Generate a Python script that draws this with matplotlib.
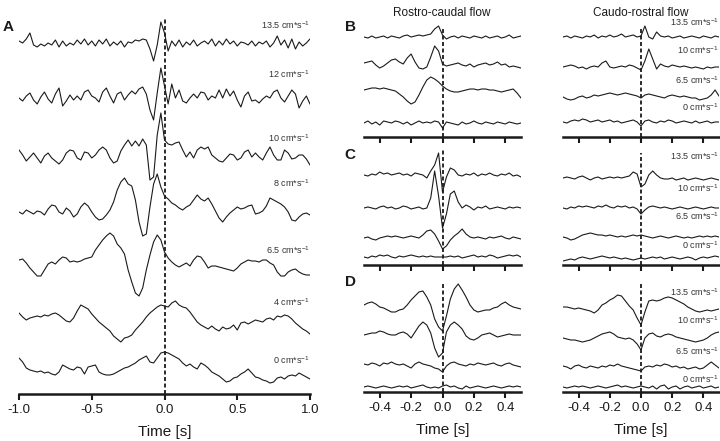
import numpy as np
import matplotlib
matplotlib.use("Agg")
import matplotlib.pyplot as plt

plt.rcParams['font.family'] = ['Liberation Sans', 'DejaVu Sans']
plt.rcParams['axes.unicode_minus'] = False

# ---- data: traces, amplitude in (approx.) pixel units ----
speeds_a = ["13.5", "12", "10", "8", "6.5", "4", "0"]
speeds_bcd = ["13.5", "10", "6.5", "0"]

# Panel A, t = -1 .. 1 s (step 0.025 s)
a_135 = [2, 0, 4, 10, -2, -4, -1, -3, 0, -2, 3, -4, 2, -3, 0, -2, 3, -1, 4, -2, 2, -3, 3, -1, 4,
         -3, 1, -2, 2, -4, 1, 0, 3, 2, 4, 3, -6, -18, -2, 21, 10, -8, 2, -3, 3, -4, 1, -2, 3, -3,
         0, 2, -1, 4, -3, 2, -2, 4, -1, 2, -3, 1, 0, -2, 2, -3, 1, -1, 2, -4, 0, 7, -2, 3, -5,
         4, -6, 1, -3, 0, 4]
a_12 = [0, -3, 2, 5, -2, -6, 1, 6, -1, -5, 4, 10, -8, -3, 3, -2, 2, -2, 6, 8, 2, 0, -4, 6, 10,
        2, -5, 4, 6, -2, 3, 7, 4, 9, 11, 4, -12, -22, 5, 30, 12, -6, 14, 0, 8, -3, -5, 0, 4, 0,
        6, 5, -2, 2, 0, 8, 0, 9, 2, 7, -2, -9, 2, 6, -3, -2, -5, -1, 2, 0, 6, 8, 0, -4, 2,
        8, 4, -10, -3, 2, -6]
a_10 = [5, 0, -6, -2, 2, -3, -8, -1, 2, -3, -6, -9, -5, 2, 5, 4, -3, -5, 3, 2, -3, 0, 5, 8, 5,
        -3, -8, -6, 4, 10, 15, 9, 14, 9, 16, 10, -25, -22, 20, 42, 15, 11, 10, 12, 13, 5, -2, 3,
        -3, 5, 8, 6, 8, 0, -3, -6, -7, -3, 1, 0, -5, -3, 3, 5, -2, 2, -2, -5, 2, 8, 0, -5, -5,
        5, 2, -4, -3, 0, 0, -4, -10]
a_8 = [0, -2, 2, 0, -2, 1, 0, -3, 3, 7, 6, 0, -2, 4, 1, -5, -2, 5, 9, 6, 0, -5, -8, -7, -3,
       2, 10, 22, 30, 34, 28, 26, 12, -10, -24, -22, 5, 28, 38, 25, 16, 13, 9, 7, 4, 2, 5, 7,
       12, 17, 13, 11, 14, 8, 1, -6, -10, -5, -1, 2, 5, 3, 4, 6, 7, -2, -1, 1, 6, 14, 12, 10,
       8, 5, 0, -8, -9, -5, -2, -1, -3]
a_65 = [0, 1, -3, -8, -12, -16, -16, -10, -4, -2, -4, 0, 3, 2, -2, -1, -2, -1, 1, 2, 3, 10, 15,
        20, 24, 27, 24, 16, 12, 6, -10, -22, -33, -36, -28, -10, 5, 18, 25, 20, 8, 2, -2, -5,
        -7, -5, -3, -6, 0, 4, 3, -2, -8, -6, -6, -7, -8, -9, -10, -11, -8, -4, -2, 0, -1, -1,
        -2, 0, 0, -3, -5, -12, -16, -16, -12, -10, -9, -12, -14, -15, -15]
a_4 = [4, 0, -3, -1, 0, 1, 0, 2, 1, 3, 4, 2, -1, -4, -5, -1, 6, 12, 10, 8, 3, -1, -5, -8, -11,
       -14, -19, -22, -25, -21, -20, -18, -13, -9, -5, 0, 4, 7, 10, 12, 11, 10, 14, 16, 12, 10,
       9, 5, 0, -5, -8, -10, -12, -9, -12, -14, -10, -12, -11, -8, -13, -6, -5, -7, -5, -3, -4,
       -5, -2, -1, -3, 1, 0, 2, 1, -2, -6, -9, -12, -14, -17]
a_0 = [14, 10, 4, 2, 1, 0, 1, -1, 0, -2, -3, 0, 7, 5, 3, 2, 5, 4, -2, 5, 6, 7, 0, -2, -3, -3,
       -2, 0, 2, 4, 5, 7, 9, 12, 14, 16, 10, 9, 14, 19, 20, 19, 17, 15, 13, 9, 6, 8, 5, 3, 9, 7,
       4, 0, -2, -4, -7, -10, -9, -6, -5, -2, 0, 3, -1, -5, -6, -8, -9, -11, -10, -6, -5, -7,
       -4, -3, -4, -1, -3, -5, -7]

# Panels B-D, t = -0.5 .. 0.5 s (step 0.025 s)
b_left = [
    [0, -1, 1, -1, 0, 1, -1, 1, 0, -1, 1, 2, 0, 1, 2, 1, 2, 3, 8, 11, 2, -2, 0, 1, -1, 1, 0, -1,
     1, 0, -1, 1, -1, 0, 1, -1, 0, 2, -1, 0, 1],
    [2, 3, 4, 0, -3, -1, 2, 5, 6, 3, 1, 7, 11, 3, -3, -4, -2, 8, 19, 14, 1, -1, 0, 1, 2, 0, -1,
     1, -2, 0, 1, 2, 0, 1, 3, 0, 1, -2, -1, -2, -3],
    [0, 1, 2, 2, 1, 2, 1, 0, -1, -4, -7, -11, -14, -12, -5, 3, 10, 13, 11, 8, 4, 1, -1, -2, -2,
     -1, 0, 1, 1, 0, 1, 1, 0, 0, -1, -2, -1, 0, 1, -3, -8],
    [0, 2, -1, 1, -2, 2, 1, 0, 2, 1, -1, 1, -2, 0, 2, 0, 1, 0, 2, 1, -5, 1, 0, -1, -2, 1, -1, 0,
     2, 0, -1, 1, 0, -1, 1, 0, -1, 1, 0, -1, 0],
]
b_right = [
    [0, 1, -1, 1, 0, -1, 1, 0, 2, -1, 1, 0, 2, 0, 1, 3, 0, 1, 2, 0, 1, 11, 0, -2, 5, 1, 0, 1, -1,
     0, 1, -1, 0, 1, 0, -1, 1, 0, -1, 1, 0],
    [0, 1, 2, 1, -1, 0, -2, 0, 1, 0, 4, 6, 0, -1, 0, 1, 0, 2, 1, -1, -3, 6, 18, 8, -2, 3, 1, 0,
     2, 1, 0, 1, 0, -1, 0, -1, -2, 0, -1, 0, 0],
    [0, -2, -3, -2, 0, 1, -1, 0, 2, 1, 2, 3, 4, 3, 2, 3, 4, 3, 2, 1, -1, 2, 3, 2, 1, 0, -1, 1, 2,
     1, 0, 1, 0, -1, -1, -3, -2, -1, 2, 7, 1],
    [0, -1, 1, 2, 1, 3, 2, 0, 1, 2, 0, 1, 2, 0, 1, -1, 0, 1, 2, 0, -4, 1, 2, 0, -1, 1, 0, 2, 1,
     -1, 0, 1, 0, -1, 1, -1, 0, 1, -1, 0, 0],
]
c_left = [
    [0, -1, 1, 0, 3, 1, 2, 0, 1, 2, 0, 1, -1, 2, 1, 0, -3, 4, 10, 22, -17, -2, 7, 5, 0, -1, 1, 0,
     2, -1, 1, 0, 2, 0, -1, 1, 0, 2, -1, 0, -2],
    [0, 1, 0, -1, 1, 2, 0, 1, -1, 0, 2, 1, -1, 0, 1, -1, 0, 10, 37, 12, -20, -6, 14, 17, 6, 0, 3,
     1, -2, 1, 0, 2, -1, 0, 1, 0, -1, 1, 0, 1, 0],
    [0, 1, -1, -2, 0, 1, 2, 1, 2, 1, 0, 1, 2, 1, 0, 3, 7, 8, 4, -3, -11, -8, -2, 2, 5, 9, 4, 1, 0,
     1, 0, -1, 1, 0, 1, 2, 0, -1, 1, 0, -1],
    [0, -1, 1, 0, 2, 1, 2, 0, -1, 1, 0, 1, 2, 1, 0, 1, 0, 1, 0, 0, 0, 0, 1, 0, 1, -1, 0, 1, 2, 0,
     1, 0, 2, 1, -1, 0, 1, 2, 1, 2, 0],
]
c_right = [
    [0, 1, 0, -1, 1, 2, 0, -2, 0, 1, -1, 0, 1, 0, 1, 0, 1, 2, 6, 4, -9, -6, 3, 7, 3, 0, -1, -1, 0,
     -2, -1, 0, -2, -1, 0, -1, -2, -1, 0, -1, -2],
    [0, -1, 1, 0, 2, 1, 2, 1, 0, 2, 1, 3, 1, 0, 2, 1, 2, 0, 1, -1, -6, -2, 1, 2, 1, 0, 1, 0, -1,
     0, 1, 0, -1, 0, 1, 0, -1, 0, 1, 0, 0],
    [0, -1, -3, -2, 0, 2, 3, 4, 3, 2, 2, 1, 2, 1, 0, 1, 0, 1, 2, 1, 2, 1, 0, -1, 0, 1, 0, -1, 0,
     1, 0, -1, 0, -1, 0, 1, 0, 1, 0, 1, 0],
    [-2, -1, 0, -1, 1, 2, 1, 0, 1, 2, 3, 2, 1, 2, 1, 0, 1, 0, -1, 0, 1, 0, 1, 2, 1, 2, 0, 1, 2, 1,
     0, 1, 2, 1, -1, 1, 2, 1, 2, 3, 2],
]
d_left = [
    [2, 4, 5, 3, 0, -1, -3, -5, -5, -3, -2, 2, 7, 11, 15, 16, 10, 2, -12, -20, -24, -9, 8, 18, 23,
     17, 10, 2, -3, -5, -4, -3, -3, -1, 0, 3, 5, 2, 0, -1, -2],
    [0, 1, 2, 2, 4, 3, 1, 0, 0, 2, 3, 1, -3, 3, 9, 13, 10, 2, -13, -22, -18, 3, 10, 13, 10, 6, -1,
     -4, -5, -3, 0, 1, 2, 0, -2, -1, 0, 1, 0, 0, 0],
    [1, 0, 2, 1, -1, 2, 1, 3, 1, 0, 1, -1, -3, 1, 3, 1, 0, -1, -3, -4, -7, -1, 2, 3, 1, 0, -1, 1,
     0, 2, 1, 0, 1, 2, 0, -1, 1, 2, 0, -1, -2],
    [0, 1, 0, -1, 0, 1, 0, -1, 0, 1, 0, 1, -1, 0, 1, 2, 0, -1, 0, -1, 1, 2, 0, 1, -1, -2, 1, -1,
     0, 1, 0, -1, 0, 1, 0, -1, 0, 1, 0, 1, 0],
]
d_right = [
    [3, 3, 2, 1, 2, 1, 0, -1, -3, 0, 5, 7, 10, 12, 15, 14, 9, 4, 0, -8, -15, -2, 9, 10, 9, 10, 12,
     13, 12, 10, 8, 6, 3, 1, -1, -2, -1, 0, -1, 0, 1],
    [2, 1, 0, 0, -1, -2, -1, 0, 2, 4, 6, 7, 8, 6, 3, 2, 1, 2, 0, -4, -10, 2, 6, 7, 4, 3, 5, 6, 5,
     3, 2, 1, 0, -1, -2, -1, 0, 2, 5, 7, 8],
    [1, 0, -2, 1, 2, 0, -1, 1, 0, -1, 1, 0, 2, 1, 3, 1, 0, -1, -2, -3, -4, 0, 1, 0, 2, 1, 3, 2, 0,
     1, -1, 0, -2, -1, 0, -2, -1, 2, 5, 2, -1],
    [0, -1, 0, 1, 0, 1, 0, -1, 0, 1, 0, -1, 0, 1, 2, 0, 1, 0, -1, 0, 1, 0, -1, 1, -2, 1, 2, -2, 0,
     1, -2, 0, 1, -1, 0, 1, -1, 0, 1, -1, 0],
]

# ---- layout (pixel geometry of the original figure) ----
W, H = 720, 441
fig = plt.figure(figsize=(W / 100, H / 100), dpi=100)
INK = "#1a1a1a"


def px_axes(left, top, right, bottom):
    ax = fig.add_axes([left / W, 1 - bottom / H, (right - left) / W, (bottom - top) / H])
    ax.set_ylim(0, bottom - top)
    for s in ("top", "right", "left"):
        ax.spines[s].set_visible(False)
    ax.spines["bottom"].set_linewidth(1.8)
    ax.spines["bottom"].set_color(INK)
    ax.set_yticks([])
    ax.tick_params(axis="x", direction="out", length=4, width=1.5, color=INK,
                   labelsize=9.5, labelcolor=INK, pad=3)
    ax.patch.set_alpha(0)
    return ax


def draw_traces(ax, t, traces, offsets, dash_top):
    for vals, off in zip(traces, offsets):
        ax.plot(t, np.asarray(vals) + off, color=INK, lw=0.8)
    ax.plot([0, 0], [0, dash_top], color=INK, lw=1.3, ls=(0, (2.2, 1.4)))


def speed_labels(ax, ys, x=1.0):
    for sp, y in zip(speeds_bcd if len(ys) == 4 else speeds_a, ys):
        ax.text(x, y, sp + r" cm*s$^{\mathregular{-1}}$", transform=ax.get_yaxis_transform(),
                ha="right", va="center", fontsize=6.5, color="#333333")


# Panel A
axA = px_axes(19, 10, 310, 394)
tA = np.linspace(-1, 1, len(a_135))
draw_traces(axA, tA, [a_135, a_12, a_10, a_8, a_65, a_4, a_0],
            [351, 296, 239, 182, 134, 77, 22], 376)
axA.set_xlim(-1, 1)
axA.set_xticks([-1, -0.5, 0, 0.5, 1])
axA.set_xticklabels(["-1.0", "-0.5", "0.0", "0.5", "1.0"])
axA.set_xlabel("Time [s]", fontsize=11, color=INK, labelpad=6.5)
speed_labels(axA, [369, 320, 256, 211, 144, 92, 34])

# Panels B-D
rows = [
    ("B", 15, 137, b_left, b_right, [100, 72, 47, 14], [100, 70, 40, 15], 109, 109,
     [115, 87, 57, 30]),
    ("C", 143, 265, c_left, c_right, [90, 57, 27, 8], [87, 57, 28, 6], 115, 112,
     [109, 77, 49, 20]),
    ("D", 270, 392, d_left, d_right, [85, 57, 27, 5], [82, 52, 25, 5], 110, 110,
     [100, 72, 41, 13]),
]
tB = np.linspace(-0.5, 0.5, len(b_left[0]))
for letter, top, bottom, left_tr, right_tr, off_l, off_r, dash_l, dash_r, lab_y in rows:
    axL = px_axes(364, top, 521, bottom)
    axR = px_axes(563, top, 719, bottom)
    draw_traces(axL, tB, left_tr, off_l, dash_l)
    draw_traces(axR, tB, right_tr, off_r, dash_r)
    for ax in (axL, axR):
        ax.set_xlim(-0.5, 0.5)
        ax.set_xticks([-0.4, -0.2, 0, 0.2, 0.4])
        if letter == "D":
            ax.set_xticklabels(["-0.4", "-0.2", "0.0", "0.2", "0.4"])
            ax.set_xlabel("Time [s]", fontsize=11, color=INK, labelpad=6.5)
        else:
            ax.set_xticklabels([])
    speed_labels(axR, lab_y, x=1.0)
    fig.text(350 / W, 1 - (top + 12) / H, letter, fontsize=11, fontweight="bold",
             ha="center", va="center", color=INK)

fig.text(8 / W, 1 - 27 / H, "A", fontsize=11, fontweight="bold", ha="center", va="center",
         color=INK)
fig.text(442 / W, 1 - 13 / H, "Rostro-caudal flow", fontsize=8.5, ha="center", va="center",
         color=INK)
fig.text(641 / W, 1 - 13 / H, "Caudo-rostral flow", fontsize=8.5, ha="center", va="center",
         color=INK)

fig.savefig("out.png", dpi=100)
